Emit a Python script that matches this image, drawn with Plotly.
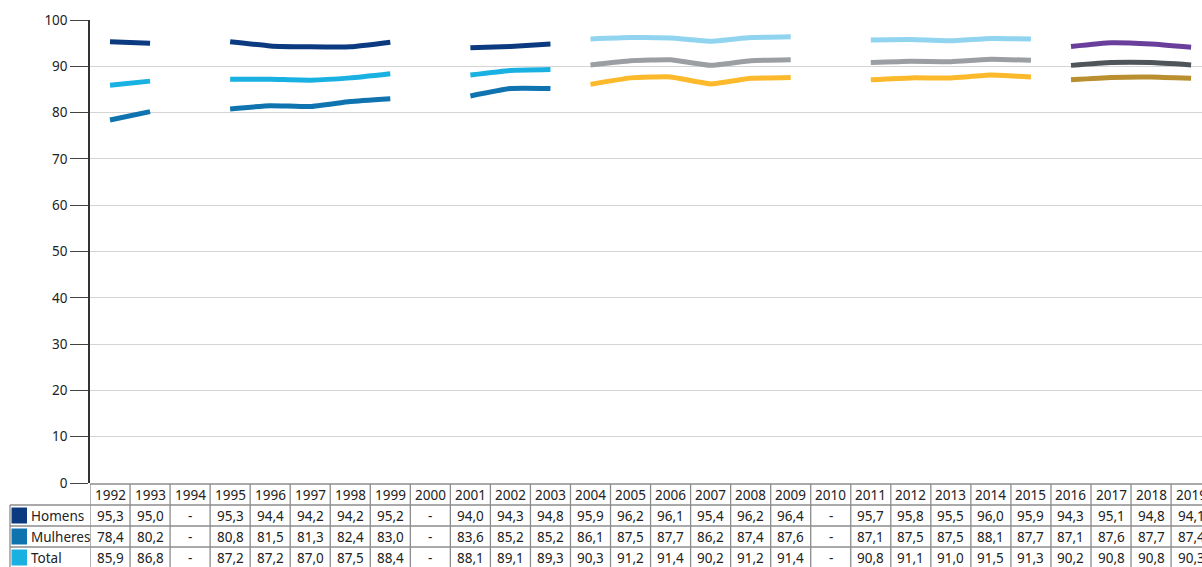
import plotly.graph_objects as go

years = list(range(1992, 2020))
homens = [95.3, 95.0, None, 95.3, 94.4, 94.2, 94.2, 95.2, None, 94.0, 94.3, 94.8,
          95.9, 96.2, 96.1, 95.4, 96.2, 96.4, None, 95.7, 95.8, 95.5, 96.0, 95.9,
          94.3, 95.1, 94.8, 94.1]
mulheres = [78.4, 80.2, None, 80.8, 81.5, 81.3, 82.4, 83.0, None, 83.6, 85.2, 85.2,
            86.1, 87.5, 87.7, 86.2, 87.4, 87.6, None, 87.1, 87.5, 87.5, 88.1, 87.7,
            87.1, 87.6, 87.7, 87.4]
total = [85.9, 86.8, None, 87.2, 87.2, 87.0, 87.5, 88.4, None, 88.1, 89.1, 89.3,
         90.3, 91.2, 91.4, 90.2, 91.2, 91.4, None, 90.8, 91.1, 91.0, 91.5, 91.3,
         90.2, 90.8, 90.8, 90.3]
row_labels = ["Homens", "Mulheres", "Total"]
y_ticks = [0, 10, 20, 30, 40, 50, 60, 70, 80, 90, 100]

# eras (first year, last year) and colours per series
eras = [(1992, 2003), (2004, 2015), (2016, 2019)]
colors = {
    "Homens": ["#0b3a80", "#90d4f0", "#6a3f9c"],
    "Mulheres": ["#0f73b0", "#fbb92b", "#b98f30"],
    "Total": ["#19b1e2", "#9b9ea2", "#50555a"],
}
legend_colors = {"Homens": "#0b3a80", "Mulheres": "#0f73b0", "Total": "#19b1e2"}
series = {"Homens": homens, "Mulheres": mulheres, "Total": total}

FONT = "Noto Sans"
TXT = "#222"
fig = go.Figure()

for name in ["Homens", "Total", "Mulheres"]:
    vals = series[name]
    for ei, (a, b) in enumerate(eras):
        xs = [y for y in years if a <= y <= b]
        ys = [vals[years.index(y)] for y in xs]
        fig.add_trace(go.Scatter(
            x=xs, y=ys, mode="lines", connectgaps=False,
            line=dict(color=colors[name][ei], width=5, shape="spline", smoothing=0.4),
            showlegend=False, hoverinfo="skip",
        ))

# geometry (pixels)
W, H = 1202, 567
L, T, B = 90, 20, 84
plot_w = W - L
plot_h = H - T - B
col_w = 40.04
x0 = years[0] - 0.5
x1 = x0 + plot_w / col_w


def py(p):
    return (H - B - p) / plot_h


def px(p):
    return (p - L) / plot_w


shapes = []
line_style = dict(color="#8c8c8c", width=1.3)
row_edges = [484, 505, 526, 547, 568]
# horizontal lines
shapes.append(dict(type="line", xref="x", yref="paper", x0=x0, x1=x0 + 30,
                   y0=py(484), y1=py(484), line=line_style))
for r in row_edges[1:]:
    shapes.append(dict(type="line", xref="paper", yref="paper", x0=px(10), x1=px(L),
                       y0=py(r), y1=py(r), line=line_style))
    shapes.append(dict(type="line", xref="x", yref="paper", x0=x0, x1=x0 + 30,
                       y0=py(r), y1=py(r), line=line_style))
# vertical lines
shapes.append(dict(type="line", xref="paper", yref="paper", x0=px(10), x1=px(10),
                   y0=py(505), y1=py(568), line=line_style))
for k in range(len(years) + 1):
    shapes.append(dict(type="line", xref="x", yref="paper", x0=x0 + k, x1=x0 + k,
                       y0=py(484), y1=py(568), line=line_style))

annotations = []
for y in years:
    annotations.append(dict(x=y, y=py(494.5), xref="x", yref="paper", text=str(y),
                            xanchor="center", yanchor="middle",
                            showarrow=False, font=dict(family=FONT, size=13.5, color=TXT)))
for ri, name in enumerate(row_labels):
    top = row_edges[ri + 1]
    cy = top + 10.5
    shapes.append(dict(type="rect", xref="paper", yref="paper", x0=px(11.5), x1=px(27),
                       y0=py(top + 2.5), y1=py(top + 18.5),
                       fillcolor=legend_colors[name], line=dict(width=0)))
    annotations.append(dict(x=px(29), y=py(cy), xref="paper", yref="paper", text=name,
                            xanchor="left", yanchor="middle", showarrow=False,
                            font=dict(family=FONT, size=13.5, color=TXT)))
    for y, v in zip(years, series[name]):
        txt = "-" if v is None else f"{v:.1f}".replace(".", ",")
        annotations.append(dict(x=y, y=py(cy), xref="x", yref="paper", text=txt,
                                xanchor="center", yanchor="middle", showarrow=False,
                                font=dict(family=FONT, size=13.5, color=TXT)))

fig.update_layout(
    width=W, height=H,
    margin=dict(l=L, r=0, t=T, b=B),
    plot_bgcolor="white", paper_bgcolor="white",
    xaxis=dict(range=[x0, x1], showgrid=False, showticklabels=False, ticks="",
               zeroline=False, showline=False, fixedrange=True),
    yaxis=dict(range=[0, 100], tickvals=y_ticks, showgrid=True, gridcolor="#d4d4d4",
               gridwidth=1, zeroline=False, showline=True, linecolor="#333",
               linewidth=1.5, ticks="outside", ticklen=18, tickcolor="#444",
               tickwidth=1.2, tickfont=dict(family=FONT, size=13.5, color=TXT),
               fixedrange=True),
    shapes=shapes, annotations=annotations,
    showlegend=False,
)

fig.write_html("out.html")
